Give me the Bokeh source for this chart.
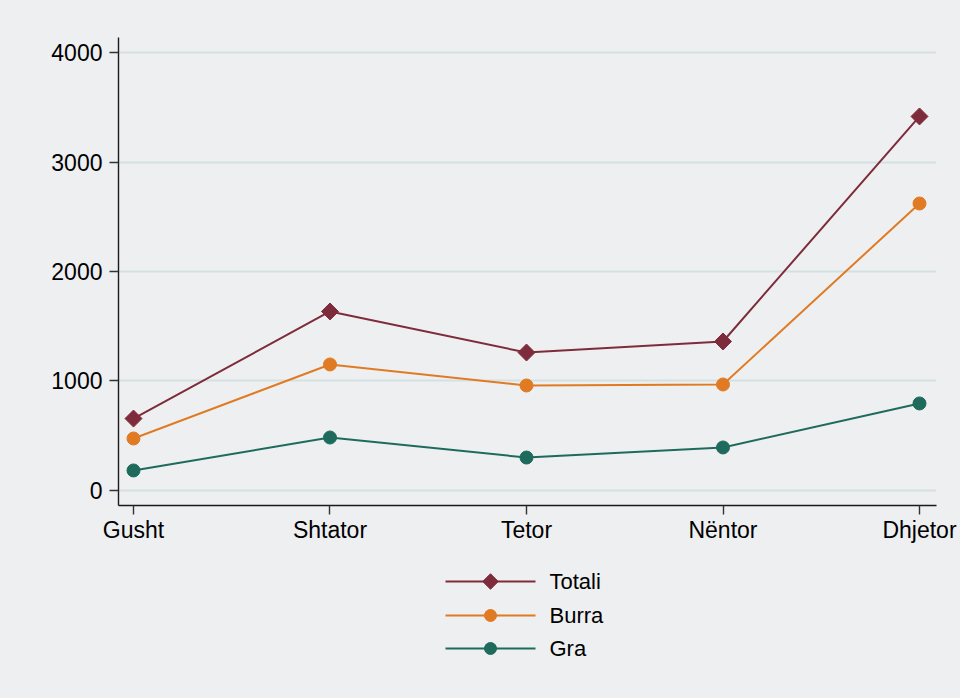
from bokeh.plotting import figure
from bokeh.models import FixedTicker, Range1d, BoxAnnotation
from bokeh.layouts import column
from bokeh.core.properties import value
from bokeh.embed import file_html
from bokeh.resources import INLINE

# ---- data ----
months = ["Gusht", "Shtator", "Tetor", "Nëntor", "Dhjetor"]
totali = [657, 1635, 1260, 1361, 3416]
burra = [475, 1151, 959, 968, 2621]
gra = [183, 484, 301, 393, 795]
y_ticks = [0, 1000, 2000, 3000, 4000]

series_names = ["Totali", "Burra", "Gra"]

x = list(range(len(months)))

BG = "#eeeff1"
FONT = "Liberation Sans"
C_TOT = "#7e2c3b"
C_BUR = "#e07b24"
C_GRA = "#1e6b5e"
colors = [C_TOT, C_BUR, C_GRA]
markers = ["square", "circle", "circle"]
angles = [0.7853981634, 0, 0]
msizes = [12, 13, 13]

W = 960
H_MAIN = 560
H_LEG = 698 - H_MAIN
FL, FR = 118, 936   # frame left/right in page pixels
EDGE = "#d0dfe1"

p = figure(width=W, height=H_MAIN, output_backend="svg", toolbar_location=None,
           x_range=Range1d(-0.0763, 4.0865), y_range=Range1d(-137, 4137),
           min_border_left=FL, min_border_right=W - FR, min_border_top=37,
           min_border_bottom=H_MAIN - 505)
p.background_fill_color = None
p.border_fill_color = BG
p.outline_line_color = None

# axes
p.xaxis.ticker = FixedTicker(ticks=x)
p.xaxis.major_label_overrides = {i: m for i, m in enumerate(months)}
p.yaxis.ticker = FixedTicker(ticks=y_ticks)
for ax in (p.xaxis, p.yaxis):
    ax.axis_line_color = "#1a1a1a"
    ax.axis_line_width = 1.4
    ax.major_tick_line_color = "#333333"
    ax.major_tick_line_width = 1.4
    ax.major_tick_out = 9
    ax.major_tick_in = 0
    ax.minor_tick_line_color = None
    ax.major_label_text_font = FONT
    ax.major_label_text_font_size = "23px"
    ax.major_label_text_color = "#000000"
p.xaxis.major_label_standoff = 2
p.yaxis.major_label_standoff = 7
p.yaxis.major_label_orientation = "horizontal"

p.xgrid.grid_line_color = None
p.ygrid.grid_line_color = "#d4e1e3"
p.ygrid.grid_line_width = 2
p.ygrid.ticker = FixedTicker(ticks=y_ticks)

# series
for vals, c, mk, ang, ms in zip([totali, burra, gra], colors, markers, angles, msizes):
    p.line(x, vals, line_color=c, line_width=2)
    p.scatter(x, vals, marker=mk, angle=ang, size=ms, fill_color=c, line_color=c)

p.add_layout(BoxAnnotation(left=9, right=959, top=12, bottom=H_MAIN + 50,
                           left_units="canvas", right_units="canvas",
                           top_units="canvas", bottom_units="canvas",
                           fill_alpha=0, line_color=EDGE, line_width=1.5,
                           level="annotation"))

# ---- legend panel (x in page pixels, y downward from panel top) ----
leg = figure(width=W, height=H_LEG, output_backend="svg", toolbar_location=None,
             x_range=Range1d(FL, FR), y_range=Range1d(H_LEG, 0),
             min_border_left=FL, min_border_right=W - FR,
             min_border_top=0, min_border_bottom=0)
leg.axis.visible = False
leg.grid.visible = False
leg.background_fill_color = None
leg.border_fill_color = BG
leg.outline_line_color = None

row_y = [21, 55, 88]
gx0, gx1, tx = 445, 535, 549
for ry, name, c, mk, ang, ms in zip(row_y, series_names, colors, markers, angles, msizes):
    leg.segment(x0=[gx0], y0=[ry], x1=[gx1], y1=[ry], line_color=c, line_width=2)
    leg.scatter([(gx0 + gx1) / 2], [ry], marker=mk, angle=ang, size=ms - 1,
                fill_color=c, line_color=c)
    leg.text([tx], [ry], text=[name], text_font=value(FONT), text_font_size="22px",
             text_baseline="middle", text_align="left", text_color="#000000")

leg.add_layout(BoxAnnotation(left=9, right=959, top=-50, bottom=H_LEG + 50,
                             left_units="canvas", right_units="canvas",
                             top_units="canvas", bottom_units="canvas",
                             fill_alpha=0, line_color=EDGE, line_width=1.5,
                             level="annotation"))

layout = column(p, leg, spacing=0, styles={"background-color": BG})
open("out.html", "w").write(file_html(layout, INLINE))
